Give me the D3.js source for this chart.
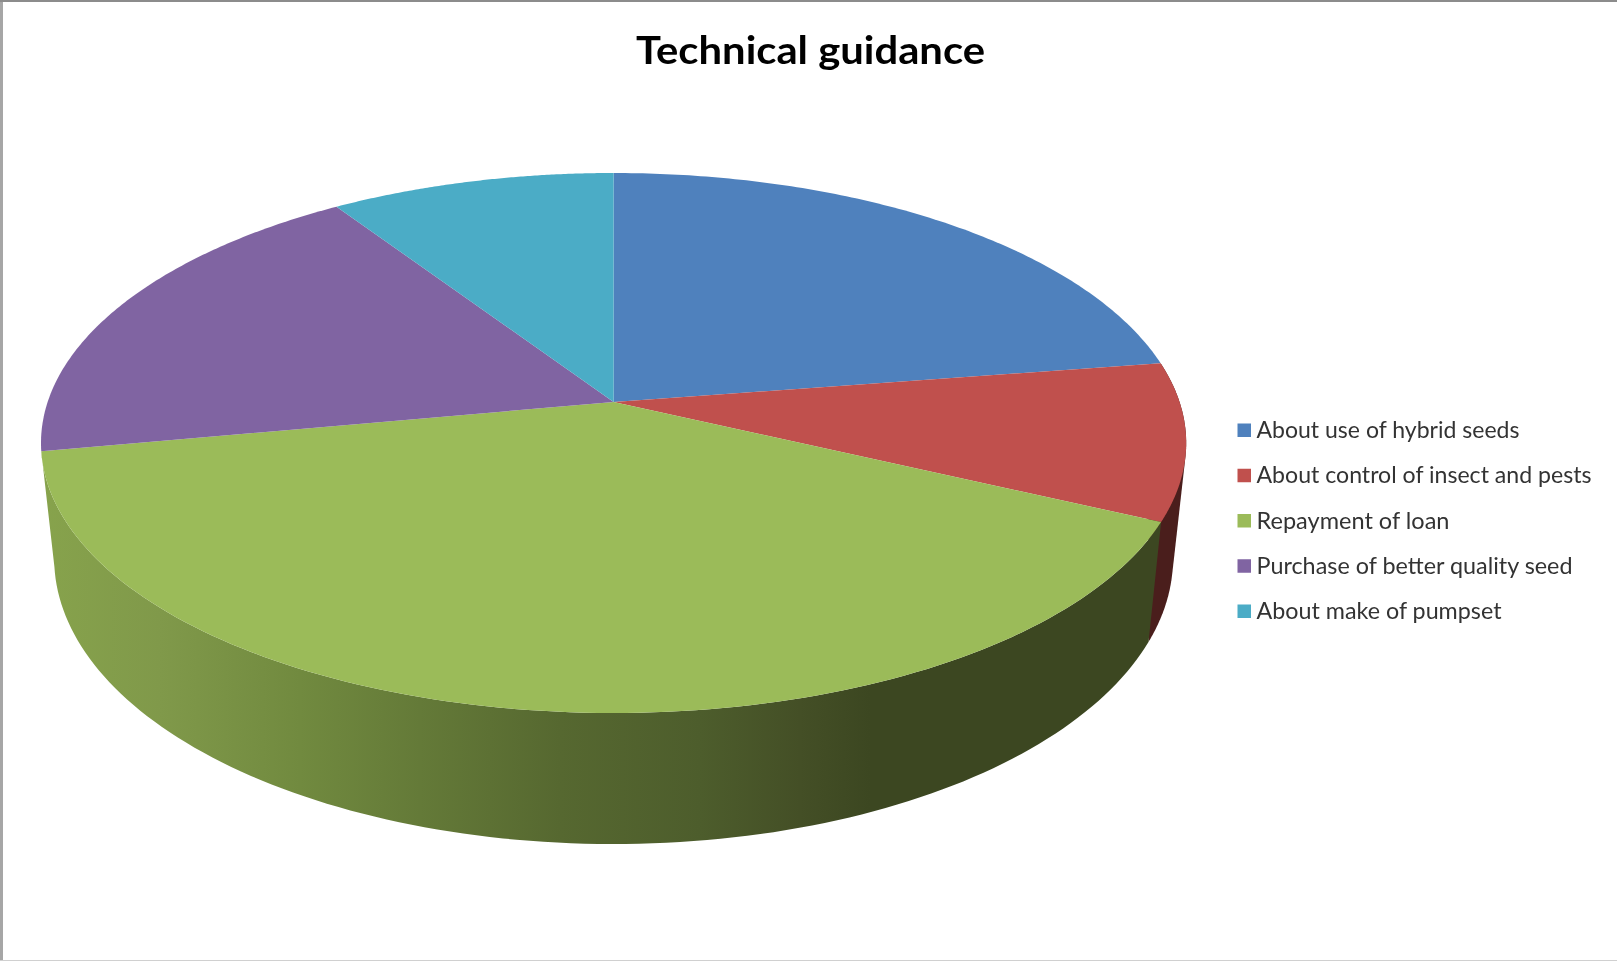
<!DOCTYPE html>
<html>
<head>
<meta charset="utf-8">
<script src="https://cdn.jsdelivr.net/npm/d3@7"></script>
<style>
html,body{margin:0;padding:0;background:#fff;overflow:hidden}
svg{display:block}
text{filter:blur(0.4px)}
</style>
</head>
<body>
<svg id="chart" width="1617" height="961"></svg>
<script>
const chartTitle = "Technical guidance";
const categories = ["About use of hybrid seeds","About control of insect and pests","Repayment of loan","Purchase of better quality seed","About make of pumpset"];
const values = [22.6,9.4,40.1,18.6,9.3];
const colors = ["#4f81bd","#c0504d","#9bbb59","#8064a2","#4bacc6"];

const svg = d3.select("#chart");
svg.append("rect").attr("x",0).attr("y",0).attr("width",1617).attr("height",961).attr("fill","#fff");

// projection of the pie disc (perspective)
const cx=613.6, cy=402, up=229, down=311, rxMax=572.6;
const p=(down-up)/(down+up), a=down*(1-p), b=rxMax*Math.sqrt(1-p*p);
const project=(ang)=>{ const u=Math.sin(ang), v=-Math.cos(ang), w=1-p*v; return [b*u/w, a*v/w]; };
const topPt=(ang)=>{ const q=project(ang); return [cx+q[0], cy+q[1]]; };
const lowSX=0.977, lowSY=1.058, lowY=515;
const lowPt=(ang)=>{ const q=project(ang); return [cx+lowSX*q[0], lowY+lowSY*q[1]]; };

const arcs=d3.pie().sort(null).value(d=>d)(values);
const samples=(s,e)=>d3.range(0,121).map(i=>s+(e-s)*i/120);
const line=d3.line();

// side gradient
const defs=svg.append("defs");
const sideStops=[[40,"#87a34c"],[160,"#80994a"],[300,"#718a3f"],[420,"#647a38"],[560,"#566830"],[700,"#4d5d2c"],[800,"#444f26"],[870,"#3c4721"],[1200,"#3c4721"]];
const g=defs.append("linearGradient").attr("id","side").attr("gradientUnits","userSpaceOnUse")
  .attr("x1",40).attr("x2",1200).attr("y1",0).attr("y2",0);
g.selectAll("stop").data(sideStops).join("stop")
  .attr("offset",d=>(d[0]-40)/1160).attr("stop-color",d=>d[1]);

// sides: red wall first (its hull includes the tangent edge), green wall over it
const ang1=samples(arcs[1].startAngle,arcs[1].endAngle);
svg.append("path").attr("d",line(d3.polygonHull(ang1.map(topPt).concat(ang1.map(lowPt))))+"Z").attr("fill","#4a1e1c");
const ang2=samples(arcs[2].startAngle,arcs[2].endAngle);
svg.append("path").attr("d",line(ang2.map(topPt).concat(ang2.slice().reverse().map(lowPt)))+"Z").attr("fill","url(#side)");

// top faces
svg.append("g").selectAll("path").data(arcs).join("path")
  .attr("d",d=>line([[cx,cy]].concat(samples(d.startAngle,d.endAngle).map(topPt)))+"Z")
  .attr("fill",(d,i)=>colors[i]);

// title
svg.append("text").text(chartTitle).attr("x",810.5).attr("y",64)
  .attr("text-anchor","middle").attr("font-family","Lato, 'Noto Sans', sans-serif")
  .attr("font-weight",700).attr("font-size",39).attr("fill","#000")
  .attr("textLength",349).attr("lengthAdjust","spacingAndGlyphs");

// legend
const legY=d3.scalePoint().domain(categories).range([430,611]);
const legWidths=[263,335,193,316,245];
const leg=svg.append("g").selectAll("g").data(categories).join("g")
  .attr("transform",d=>`translate(0,${legY(d)})`);
leg.append("rect").attr("x",1237.5).attr("y",-6.5).attr("width",13.5).attr("height",13.5).attr("fill",(d,i)=>colors[i]);
leg.append("text").text(d=>d).attr("x",1256.5).attr("y",8)
  .attr("font-family","Lato, 'Noto Sans', sans-serif").attr("font-size",23.5).attr("fill","#333")
  .attr("textLength",(d,i)=>legWidths[i]).attr("lengthAdjust","spacingAndGlyphs");

// picture frame
svg.append("rect").attr("x",0).attr("y",0).attr("width",3).attr("height",961).attr("fill","#a6a6a6");
svg.append("rect").attr("x",0).attr("y",0).attr("width",1617).attr("height",2).attr("fill","#8c8c8c");
svg.append("rect").attr("x",0).attr("y",960).attr("width",1617).attr("height",1).attr("fill","#d0d0d0");
</script>
</body>
</html>
